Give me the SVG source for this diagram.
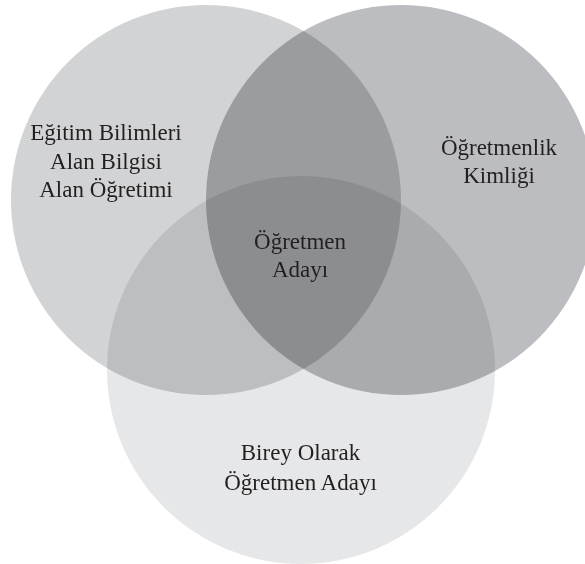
<svg xmlns="http://www.w3.org/2000/svg" width="585" height="564" viewBox="0 0 585 564">
  <style>
    .c { mix-blend-mode: multiply; }
    .t { font-family: "Liberation Serif", "DejaVu Serif", serif; font-size: 23px; fill: #231f20; text-anchor: middle; }
  </style>
  <rect x="0" y="0" width="585" height="564" fill="#ffffff"/>
  <g style="isolation:isolate">
    <g id="node-left">
      <circle class="c" cx="206" cy="200" r="195" fill="#d1d3d4"/>
    </g>
    <g id="node-right">
      <circle class="c" cx="401" cy="200" r="195" fill="#bcbdc0"/>
    </g>
    <g id="node-bottom">
      <circle class="c" cx="301" cy="370" r="194" fill="#e6e7e8"/>
    </g>
  </g>
  <g id="connectors"></g>
  <g id="labels">
    <g id="label-left">
      <text class="t" x="106" y="140">Eğitim Bilimleri</text>
      <text class="t" x="106" y="168.5">Alan Bilgisi</text>
      <text class="t" x="106" y="197">Alan Öğretimi</text>
    </g>
    <g id="label-right">
      <text class="t" x="499" y="155">Öğretmenlik</text>
      <text class="t" x="499" y="183">Kimliği</text>
    </g>
    <g id="label-center">
      <text class="t" x="300" y="249">Öğretmen</text>
      <text class="t" x="300" y="277">Adayı</text>
    </g>
    <g id="label-bottom">
      <text class="t" x="300.5" y="460">Birey Olarak</text>
      <text class="t" x="300.5" y="490">Öğretmen Adayı</text>
    </g>
  </g>
</svg>
